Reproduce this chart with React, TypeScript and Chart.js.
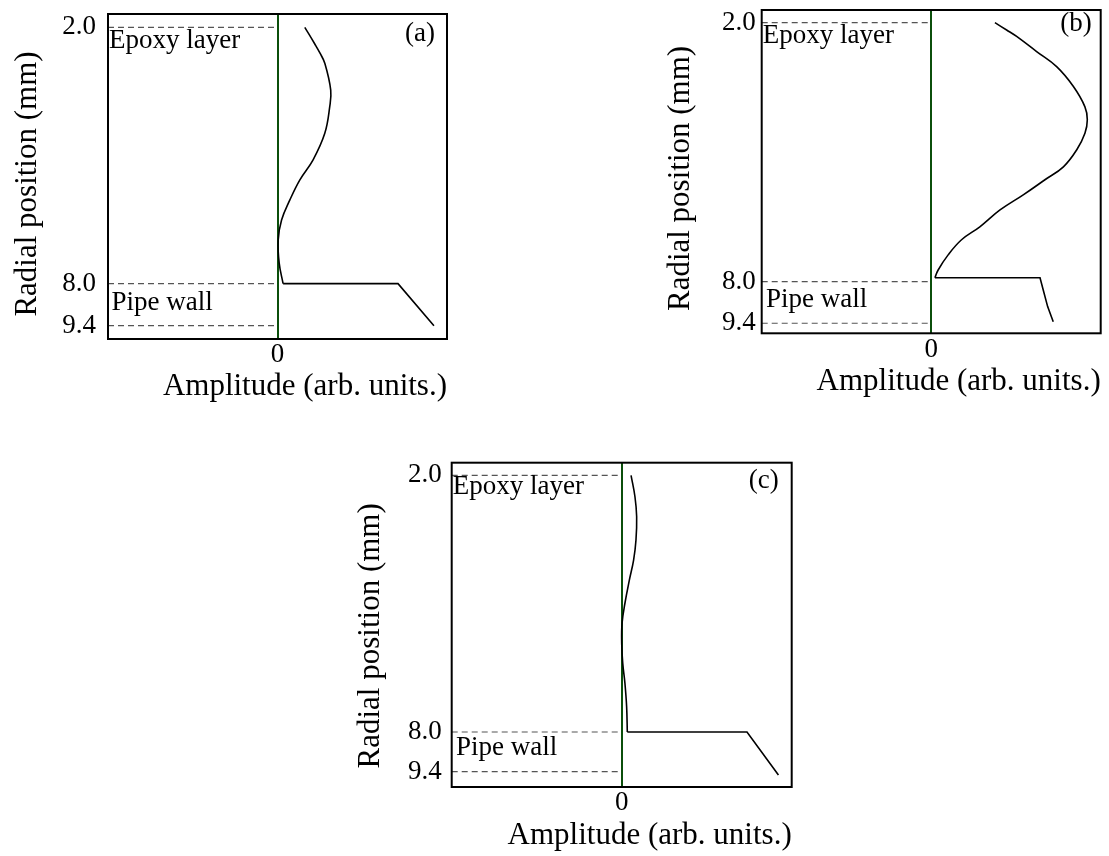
import React, { useEffect, useRef } from 'react';
import { Chart, registerables } from 'chart.js';

Chart.register(...registerables);

const FONT = "'Liberation Serif', 'Times New Roman', serif";

// Axis tick labels (radial position in mm) and amplitude tick
const yTickRadii = [2.0, 8.0, 9.4];
const yTickLabels = ['2.0', '8.0', '9.4'];
const xTickValues = [0];
const xTickLabels = ['0'];
const layerNames = ['Epoxy layer', 'Pipe wall'];
const layerRadii = [2.0, 8.0];
const panelLabels = ['(a)', '(b)', '(c)'];
const yTitle = 'Radial position (mm)';
const xTitle = 'Amplitude (arb. units.)';

// Panel (a): amplitude profile through the epoxy layer
const radialA = [2.0, 2.39, 2.6, 2.84, 3.47, 3.86, 4.48, 5.1, 5.57, 6.04, 6.51, 6.98, 7.52, 8.0];
const ampA = [0.161, 0.22, 0.25, 0.279, 0.314, 0.308, 0.279, 0.21, 0.132, 0.073, 0.024, 0.004, 0.01, 0.033];
const wallRadialA = [8.0, 8.0, 9.4];
const wallAmpA = [0.033, 0.711, 0.923];

// Panel (b)
const radialB = [2.0, 2.17, 2.32, 2.67, 3.02, 3.48, 3.95, 4.25, 4.56, 4.95, 5.34, 5.64, 5.99, 6.34, 6.73, 7.03, 7.38, 7.73, 7.91];
const ampB = [0.376, 0.445, 0.504, 0.622, 0.74, 0.839, 0.907, 0.921, 0.907, 0.858, 0.78, 0.671, 0.543, 0.406, 0.287, 0.179, 0.1, 0.041, 0.022];
const wallRadialB = [7.91, 7.91, 8.28, 8.84, 9.35];
const wallAmpB = [0.022, 0.642, 0.661, 0.687, 0.72];

// Panel (c)
const radialC = [2.0, 2.5, 2.97, 3.51, 3.98, 4.45, 4.99, 5.46, 5.93, 6.39, 6.86, 7.41, 8.0];
const ampC = [0.055, 0.078, 0.088, 0.084, 0.07, 0.045, 0.019, 0.002, 0.0, 0.006, 0.019, 0.029, 0.033];
const wallRadialC = [8.0, 8.0, 9.52];
const wallAmpC = [0.033, 0.737, 0.922];

type Panel = {
  label: string;
  radial: number[];
  amp: number[];
  wallRadial: number[];
  wallAmp: number[];
  k: number; // compression of the pipe-wall region on the axis
  yMin: number;
  yMax: number;
  box: { left: number; top: number; w: number; h: number };
  L: number; T: number; R: number; xH: number;
  yTitlePad: number; yTickPad: number; xTitlePad: number; yTitleShift: number;
  epoxyDy: number; wallDx: number; wallDy: number; tagDy: number; tagDx: number;
};

const panels: Panel[] = [
  {
    label: panelLabels[0], radial: radialA, amp: ampA, wallRadial: wallRadialA, wallAmp: wallAmpA,
    k: 0.702, yMin: 1.688, yMax: 9.295,
    box: { left: 0, top: 0, w: 460, h: 410 }, L: 108, T: 14, R: 13, xH: 71,
    yTitlePad: 9, yTickPad: 12, xTitlePad: 5, yTitleShift: 7.5,
    epoxyDy: 21, wallDx: 3.5, wallDy: 26, tagDy: 27, tagDx: 12,
  },
  {
    label: panelLabels[1], radial: radialB, amp: ampB, wallRadial: wallRadialB, wallAmp: wallAmpB,
    k: 0.689, yMin: 1.707, yMax: 9.197,
    box: { left: 650, top: 0, w: 459, h: 410 }, L: 111.7, T: 10, R: 8.3, xH: 76.7,
    yTitlePad: 12.4, yTickPad: 6, xTitlePad: 10, yTitleShift: 6.8,
    epoxyDy: 20.7, wallDx: 4.3, wallDy: 25, tagDy: 21, tagDx: 9,
  },
  {
    label: panelLabels[2], radial: radialC, amp: ampC, wallRadial: wallRadialC, wallAmp: wallAmpC,
    k: 0.662, yMin: 1.704, yMax: 9.286,
    box: { left: 340, top: 440, w: 470, h: 416 }, L: 111.7, T: 22.7, R: 18.3, xH: 69,
    yTitlePad: 12.2, yTickPad: 10, xTitlePad: 1.4, yTitleShift: 11,
    epoxyDy: 18.7, wallDx: 4.3, wallDy: 23, tagDy: 25, tagDx: 13,
  },
];

function makePos(k: number) {
  return (r: number) => (r <= 8 ? r : 8 + (r - 8) * k);
}

function zeroPad(s: any) {
  s.paddingTop = 0;
  s.paddingBottom = 0;
  s.paddingLeft = 0;
  s.paddingRight = 0;
}

function PanelChart({ p }: { p: Panel }) {
  const ref = useRef<HTMLCanvasElement>(null);
  useEffect(() => {
    if (!ref.current) return;
    const pos = makePos(p.k);
    const curve = p.radial.map((r, i) => ({ x: p.amp[i], y: pos(r) }));
    const wall = p.wallRadial.map((r, i) => ({ x: p.wallAmp[i], y: pos(r) }));
    const dashSets = yTickRadii.map((r) => ({
      data: [{ x: -1, y: pos(r) }, { x: xTickValues[0], y: pos(r) }],
      borderColor: '#555555',
      borderWidth: 1.2,
      borderDash: [6, 4],
      pointRadius: 0,
      showLine: true,
      tension: 0,
    }));

    const annot = {
      id: 'annot',
      afterLayout(chart: any) {
        // move only the y-axis title box (pixel mapping is already configured)
        const ys = chart.scales.y;
        ys.top += p.yTitleShift;
        ys.bottom += p.yTitleShift;
      },
      afterDatasetsDraw(chart: any) {
        const { ctx, chartArea: a, scales } = chart;
        ctx.save();
        ctx.strokeStyle = '#000';
        ctx.lineWidth = 2;
        ctx.strokeRect(a.left, a.top, a.right - a.left, a.bottom - a.top);
        ctx.fillStyle = '#000';
        ctx.font = `27px ${FONT}`;
        ctx.textBaseline = 'alphabetic';
        ctx.textAlign = 'left';
        const ys = scales.y;
        ctx.fillText(layerNames[0], a.left + 1, ys.getPixelForValue(pos(layerRadii[0])) + p.epoxyDy);
        ctx.fillText(layerNames[1], a.left + p.wallDx, ys.getPixelForValue(pos(layerRadii[1])) + p.wallDy);
        ctx.textAlign = 'right';
        ctx.fillText(p.label, a.right - p.tagDx, a.top + p.tagDy);
        ctx.restore();
      },
    };

    const chart = new Chart(ref.current, {
      type: 'scatter',
      data: {
        datasets: [
          ...dashSets,
          {
            data: curve,
            borderColor: '#000',
            borderWidth: 1.6,
            pointRadius: 0,
            showLine: true,
            tension: 0.4,
          },
          {
            data: wall,
            borderColor: '#000',
            borderWidth: 1.6,
            pointRadius: 0,
            showLine: true,
            tension: 0,
          },
        ] as any,
      },
      options: {
        animation: false,
        responsive: false,
        layout: { padding: { left: 0, top: p.T, right: p.R, bottom: 0 } },
        plugins: { legend: { display: false }, tooltip: { enabled: false } },
        scales: {
          x: {
            type: 'linear',
            min: -1,
            max: 1,
            afterBuildTicks: (s: any) => {
              s.ticks = xTickValues.map((v) => ({ value: v }));
            },
            afterFit: (s: any) => {
              s.height = p.xH;
              zeroPad(s);
            },
            border: { display: false },
            grid: { display: true, drawTicks: false, color: '#0b4f0b', lineWidth: 2 },
            ticks: {
              autoSkip: false,
              padding: 0,
              color: '#000',
              font: { family: FONT, size: 27 },
              maxRotation: 0,
              callback: (_v: any, i: number) => xTickLabels[i],
            },
            title: {
              display: true,
              text: xTitle,
              align: 'end',
              color: '#000',
              font: { family: FONT, size: 31 },
              padding: { top: 0, bottom: p.xTitlePad },
            },
          },
          y: {
            type: 'linear',
            reverse: true,
            min: p.yMin,
            max: p.yMax,
            afterBuildTicks: (s: any) => {
              s.ticks = yTickRadii.map((r) => ({ value: pos(r) }));
            },
            afterFit: (s: any) => {
              s.width = p.L;
              zeroPad(s);
            },
            border: { display: false },
            grid: { display: false, drawTicks: false },
            ticks: {
              autoSkip: false,
              padding: p.yTickPad,
              color: '#000',
              font: { family: FONT, size: 27 },
              callback: (_v: any, i: number) => yTickLabels[i],
            },
            title: {
              display: true,
              text: yTitle,
              color: '#000',
              font: { family: FONT, size: 31 },
              padding: { top: p.yTitlePad, bottom: 0 },
            },
          },
        },
      } as any,
      plugins: [annot],
    });
    return () => chart.destroy();
  }, [p]);

  return (
    <div style={{ position: 'absolute', left: p.box.left, top: p.box.top, width: p.box.w, height: p.box.h }}>
      <canvas ref={ref} width={p.box.w} height={p.box.h} style={{ width: p.box.w, height: p.box.h, display: 'block' }} />
    </div>
  );
}

export default function App() {
  return (
    <div style={{ position: 'absolute', left: 0, top: 0, width: 1109, height: 856, background: '#fff', overflow: 'hidden' }}>
      {panels.map((p) => (
        <PanelChart key={p.label} p={p} />
      ))}
    </div>
  );
}
